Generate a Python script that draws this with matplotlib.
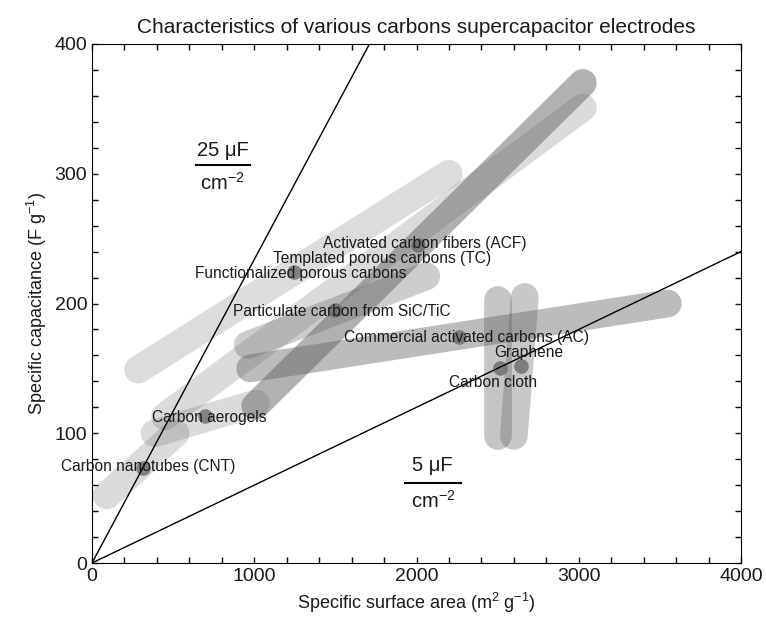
import matplotlib
matplotlib.use("Agg")
import matplotlib.pyplot as plt

plt.rcParams['font.family'] = ['Liberation Sans', 'DejaVu Sans']
plt.rcParams['mathtext.default'] = 'regular'

# ---- data ----
band_names = ["Carbon nanotubes (CNT)", "Carbon aerogels", "Templated porous carbons (TC)",
              "Functionalized porous carbons", "Particulate carbon from SiC/TiC",
              "Activated carbon fibers (ACF)", "Commercial activated carbons (AC)",
              "Carbon cloth", "Graphene"]
band_x0 = [90, 385, 450, 284, 960, 1006, 975, 2500, 2600]
band_y0 = [52, 100, 113, 149, 168, 121, 150, 98, 98]
band_x1 = [515, 1010, 3025, 2198, 2060, 3025, 3549, 2500, 2667]
band_y1 = [100, 123, 351, 300, 221, 370, 200, 203, 205]
band_alpha = [0.23, 0.23, 0.23, 0.22, 0.32, 0.5, 0.43, 0.37, 0.35]

dot_x = [315, 697, 1247, 1500, 2012, 2260, 2512, 2642]
dot_y = [73, 113, 224, 195, 245, 174, 150, 152]

label_text = ["Carbon nanotubes (CNT)", "Carbon aerogels", "Templated porous carbons (TC)",
              "Functionalized porous carbons", "Particulate carbon from SiC/TiC",
              "Activated carbon fibers (ACF)", "Commercial activated carbons (AC)",
              "Carbon cloth", "Graphene"]
label_x = [344, 722, 1790, 1284, 1537, 2050, 2309, 2469, 2691]
label_y = [74, 112.5, 234.5, 223, 194, 246.5, 174, 139, 162]

ref_x = [[0, 1710], [0, 4000]]
ref_y = [[0, 400], [0, 240]]

fig = plt.figure(figsize=(7.66, 6.29), dpi=100)
ax = fig.add_axes([92/766, 66/629, 649/766, 519/629])

band_color = '#646464'
for x0, y0, x1, y1, a in zip(band_x0, band_y0, band_x1, band_y1, band_alpha):
    ax.plot([x0, x1], [y0, y1], color=band_color, alpha=a, lw=20,
            solid_capstyle='round', zorder=1)

ax.plot(dot_x, dot_y, 'o', color=band_color, alpha=0.75, ms=10.5, mew=0, zorder=2)

for xs, ys in zip(ref_x, ref_y):
    ax.plot(xs, ys, color='black', lw=1, zorder=3)

for t, x, y in zip(label_text, label_x, label_y):
    ax.text(x, y, t, ha='center', va='center', fontsize=11.2, color='#1a1a1a', zorder=4)

# fraction annotations
def frac(xc, ytop, ybar, ybot, xl, xr, top):
    ax.text(xc, ytop, top, ha='center', va='center', fontsize=14.5, color='#1a1a1a')
    ax.plot([xl, xr], [ybar, ybar], color='black', lw=1.5)
    ax.text(xc, ybot, 'cm$^{-2}$', ha='center', va='center', fontsize=14.5, color='#1a1a1a')

frac(805, 318, 307, 293, 642, 975, '25 μF')
frac(2100, 75, 62, 48, 1932, 2272, '5 μF')

ax.set_xlim(0, 4000)
ax.set_ylim(0, 400)
ax.set_xticks([0, 1000, 2000, 3000, 4000])
ax.set_yticks([0, 100, 200, 300, 400])
ax.set_xticks(range(0, 4001, 200), minor=True)
ax.set_yticks(range(0, 401, 20), minor=True)
ax.tick_params(which='both', direction='in', top=True, right=True, length=4, width=1)
ax.tick_params(which='major', labelsize=14, colors='#1a1a1a')

ax.set_xlabel('Specific surface area (m$^2$ g$^{-1}$)', fontsize=13, color='#1a1a1a')
ax.set_ylabel('Specific capacitance (F g$^{-1}$)', fontsize=13, color='#1a1a1a')
ax.set_title('Characteristics of various carbons supercapacitor electrodes', fontsize=15,
             pad=8, color='#1a1a1a')

fig.savefig('out.png', dpi=100)
